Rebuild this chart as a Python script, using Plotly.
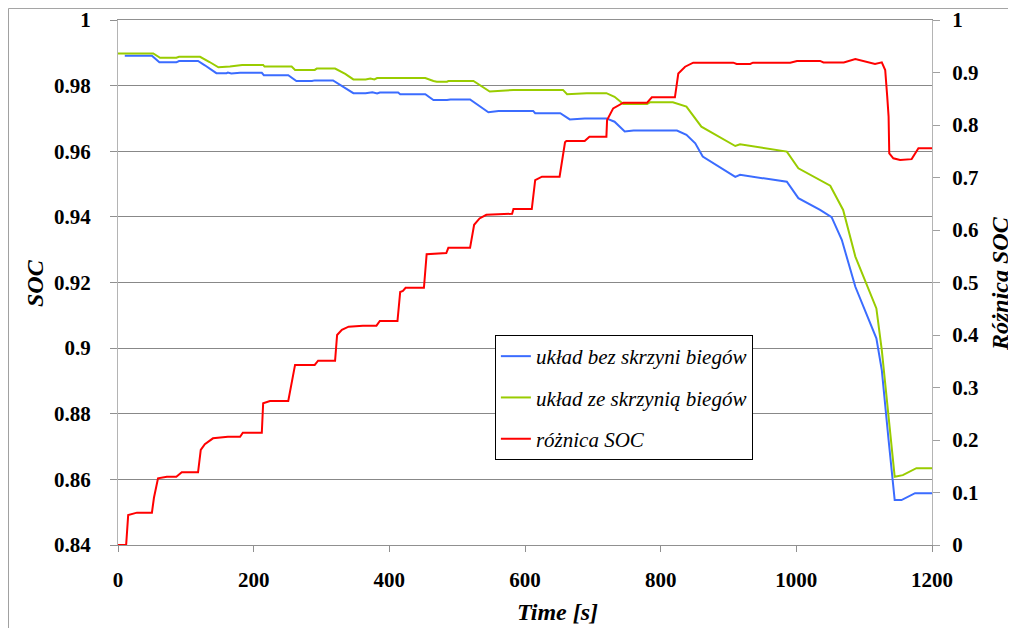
import plotly.graph_objects as go

# ---- data ----
t_bez = [10, 50, 61, 86, 90, 118, 128, 145, 160, 162, 167, 180, 212, 215, 251, 263, 286, 290, 317, 330,
         347, 365, 375, 382, 386, 413, 416, 453, 465, 485, 490, 519, 532, 546, 561, 612, 615, 652, 666,
         688, 720, 732, 747, 760, 824, 838, 851, 862, 910, 917, 986, 1003, 1035, 1052, 1067, 1087, 1118,
         1126, 1136, 1145, 1155, 1175, 1200]
soc_bez = [0.9891, 0.9891, 0.9871, 0.9871, 0.9875, 0.9875, 0.9862, 0.9838, 0.9838, 0.9840, 0.9837,
           0.9839, 0.9839, 0.9832, 0.9832, 0.9814, 0.9814, 0.9816, 0.9816, 0.9800, 0.9777, 0.9777,
           0.9780, 0.9776, 0.9779, 0.9779, 0.9774, 0.9774, 0.9756, 0.9756, 0.9758, 0.9758, 0.9740,
           0.9719, 0.9723, 0.9723, 0.9716, 0.9716, 0.9697, 0.9700, 0.9700, 0.9690, 0.9660, 0.9663,
           0.9663, 0.9650, 0.9624, 0.9584, 0.9522, 0.9528, 0.9507, 0.9457, 0.9421, 0.9399, 0.9330,
           0.9187, 0.9030, 0.8933, 0.8720, 0.8537, 0.8537, 0.8558, 0.8558]

t_ze = [0, 52, 62, 86, 90, 121, 135, 148, 165, 183, 214, 216, 256, 261, 290, 293, 320, 335, 347, 365,
        372, 378, 382, 453, 465, 470, 485, 487, 524, 535, 548, 583, 617, 622, 627, 656, 662, 691, 720,
        732, 745, 780, 784, 818, 838, 860, 910, 917, 986, 1003, 1050, 1069, 1087, 1118, 1126, 1133,
        1145, 1157, 1177, 1200]
soc_ze = [0.9898, 0.9898, 0.9885, 0.9885, 0.9888, 0.9888, 0.9872, 0.9856, 0.9858, 0.9863, 0.9863,
          0.9858, 0.9858, 0.9848, 0.9848, 0.9852, 0.9852, 0.9836, 0.9819, 0.9819, 0.9822, 0.9819,
          0.9823, 0.9823, 0.9814, 0.9812, 0.9812, 0.9814, 0.9814, 0.9800, 0.9782, 0.9787, 0.9787,
          0.9785, 0.9787, 0.9787, 0.9774, 0.9777, 0.9777, 0.9766, 0.9744, 0.9744, 0.9749, 0.9749,
          0.9736, 0.9675, 0.9616, 0.9621, 0.9599, 0.9548, 0.9495, 0.9421, 0.9279, 0.9121, 0.8994,
          0.8852, 0.8608, 0.8613, 0.8634, 0.8634]

t_diff = [0, 12, 15, 28, 50, 53, 59, 72, 86, 94, 118, 122, 128, 140, 162, 180, 184, 212, 214, 224, 251,
          256, 261, 290, 295, 320, 323, 330, 340, 361, 381, 386, 412, 416, 420, 424, 451, 455, 484, 487,
          519, 525, 533, 543, 581, 583, 610, 615, 625, 651, 659, 661, 688, 695, 720, 721, 730, 745, 780,
          787, 821, 826, 836, 848, 907, 912, 932, 936, 991, 1001, 1035, 1040, 1070, 1087, 1104, 1116,
          1126, 1131, 1134, 1136, 1137, 1143, 1153, 1170, 1180, 1200]
diff_soc = [0, 0, 0.057, 0.0616, 0.0616, 0.09, 0.127, 0.130, 0.130, 0.1384, 0.1384, 0.181, 0.192,
            0.2032, 0.2063, 0.2063, 0.2139, 0.2139, 0.270, 0.2743, 0.2743, 0.31, 0.343, 0.343, 0.351,
            0.351, 0.40, 0.410, 0.4159, 0.4178, 0.4178, 0.4267, 0.4267, 0.482, 0.484, 0.49, 0.49, 0.554,
            0.556, 0.566, 0.566, 0.61, 0.622, 0.629, 0.631, 0.640, 0.640, 0.695, 0.7016, 0.7016, 0.767,
            0.7695, 0.7695, 0.7778, 0.7778, 0.8095, 0.8317, 0.8425, 0.8425, 0.8527, 0.8527, 0.898, 0.911,
            0.9187, 0.9187, 0.9162, 0.9162, 0.9187, 0.9187, 0.922, 0.922, 0.919, 0.919, 0.9257, 0.9206,
            0.9162, 0.9194, 0.9048, 0.854, 0.816, 0.746, 0.7365, 0.7333, 0.735, 0.7556, 0.7556]

names = ["układ bez skrzyni biegów", "układ ze skrzynią biegów", "różnica SOC"]
colors = ["#3B6CFF", "#99CC00", "#FF0000"]

FONT = "Liberation Serif"

fig = go.Figure()
fig.add_trace(go.Scatter(x=t_bez, y=soc_bez, mode="lines", name=names[0], legendgroup="a",
                         line=dict(color=colors[0], width=2)))
fig.add_trace(go.Scatter(x=t_ze, y=soc_ze, mode="lines", name=names[1], legendgroup="b",
                         line=dict(color=colors[1], width=2)))
fig.add_trace(go.Scatter(x=t_diff, y=diff_soc, mode="lines", name=names[2], legendgroup="c",
                         yaxis="y2", line=dict(color=colors[2], width=2)))

tickfont = dict(family=FONT, size=21, color="black", weight="bold")
titlefont = dict(family=FONT, size=24, color="black", weight="bold", style="italic")

# figure sized to fit inside the page's default 8px body margin
fig.update_layout(
    width=1008, height=620,
    margin=dict(l=110, r=84, t=12, b=83, autoexpand=False),
    paper_bgcolor="white", plot_bgcolor="white",
    showlegend=True,
    xaxis=dict(range=[0, 1200], dtick=200, tick0=0, ticks="outside", ticklen=6, tickcolor="#909090",
               showline=True, linecolor="#909090", mirror=True, showgrid=False, zeroline=False,
               tickfont=tickfont, ticklabelstandoff=10, automargin=False),
    yaxis=dict(range=[0.84, 1.0], dtick=0.02, tick0=0.84, ticks="outside", ticklen=7, tickcolor="#909090",
               showline=True, linecolor="#b4b4b4", showgrid=True, gridcolor="#888888", gridwidth=1,
               zeroline=False, tickfont=tickfont, ticklabelstandoff=15, automargin=False),
    yaxis2=dict(range=[0, 1.0], dtick=0.1, tick0=0, overlaying="y", side="right", ticks="outside",
                ticklen=7, tickcolor="#a0a0a0", showline=True, linecolor="#b4b4b4", showgrid=False,
                zeroline=False, tickfont=tickfont, ticklabelstandoff=8, automargin=False),
    legend=dict(x=0.463, y=0.40, xanchor="left", yanchor="top", bgcolor="white",
                bordercolor="black", borderwidth=1, tracegroupgap=11,
                font=dict(family=FONT, size=21, color="black", style="italic")),
    annotations=[
        dict(text="SOC", xref="paper", yref="paper", x=-0.102, y=0.499, textangle=-90,
             showarrow=False, font=titlefont, xanchor="center", yanchor="middle"),
        dict(text="Różnica SOC", xref="paper", yref="paper", x=1.0835, y=0.499, textangle=-90,
             showarrow=False, font=titlefont, xanchor="center", yanchor="middle"),
        dict(text="Time [s]", xref="paper", yref="paper", x=0.5405, y=-0.1276,
             showarrow=False, font=titlefont, xanchor="center", yanchor="middle"),
    ],
    shapes=[dict(type="rect", xref="paper", yref="paper", x0=-0.1345, y0=-0.2, x1=1.12, y1=1.022,
                 line=dict(color="#a0a0a0", width=1), fillcolor="rgba(0,0,0,0)", layer="below")],
)

fig.write_html("out.html")
